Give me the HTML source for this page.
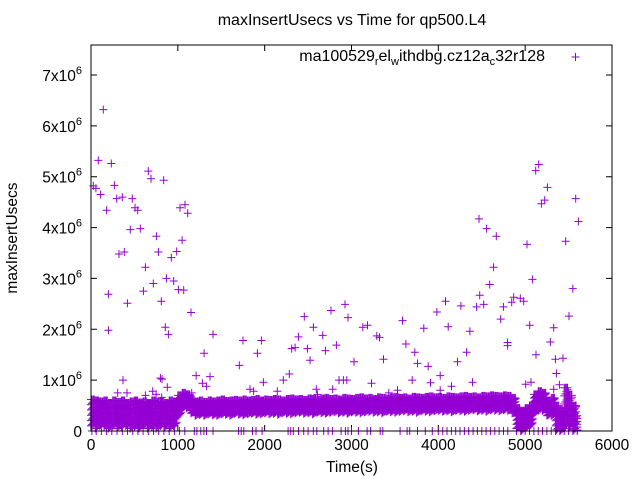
<!DOCTYPE html>
<html><head><meta charset="utf-8"><style>
html,body{margin:0;padding:0;background:#fff;}
svg{display:block;font-family:"Liberation Sans",sans-serif;}
</style></head><body>
<svg id="chart" width="640" height="480" viewBox="0 0 640 480">
<text x="352" y="25" font-size="16" text-anchor="middle">maxInsertUsecs vs Time for qp500.L4</text>
<text x="352" y="472" font-size="15.5" text-anchor="middle">Time(s)</text>
<text transform="translate(17,238) rotate(-90)" font-size="15.5" text-anchor="middle">maxInsertUsecs</text>
<g id="axes"></g>
<g id="marks"></g>
<rect x="91" y="45" width="521" height="386" fill="none" stroke="#000" stroke-width="1"/>
<g>
<text x="545" y="61" font-size="16" text-anchor="end">ma100529<tspan font-size="11" dy="4">r</tspan><tspan dy="-4">el</tspan><tspan font-size="11" dy="4">w</tspan><tspan dy="-4">ithdbg.cz12a</tspan><tspan font-size="11" dy="4">c</tspan><tspan dy="-4">32r128</tspan></text>
<path d="M571.5 57H579.5M575.5 53V61" stroke="#9400d3" stroke-width="1"/>
</g>
</svg>
<script>
const xTicks=[0,1000,2000,3000,4000,5000,6000];
const yTicks=[0,1,2,3,4,5,6,7];
const outT=[27,57,142,84,111,180,234,269,296,361,323,384,200,200,419,369,453,476,507,538,568,660,691,837,626,603,718,753,776,810,856,891,799,818,879,868,952,925,987,1006,1067,1025,1083,1114,1049,1152,1302,1405,1210,1283,1371,1329,1160,1708,1750,1916,1962,1985,1831,1873,2146,2215,2284,2311,2350,2388,2457,2492,2523,2561,2668,2699,2595,2607,2764,2826,2783,2856,2925,2960,3029,3130,3184,3291,3322,3368,3230,3430,3530,3587,3626,3699,3729,3760,3833,3883,3910,3983,4021,4021,4083,4114,4152,4221,4260,4325,4364,4394,4441,4476,4522,4468,4556,4668,4637,4591,4718,4749,4798,4798,4845,4868,4944,4983,5021,5052,5083,5121,5156,5187,5225,5256,5125,5067,5006,5290,5329,5348,5360,5394,5329,5436,5467,5505,5548,5582,5613,5497,307,415,750,814,626,710,2907,2946];
const outV=[4.82,4.77,6.32,5.32,4.65,4.34,5.26,4.83,4.57,4.6,3.48,3.52,2.69,1.98,2.51,1.0,3.96,4.57,4.39,4.34,3.98,5.11,4.96,4.93,3.22,2.75,2.9,3.83,3.52,2.55,2.04,1.9,1.04,1.02,0.86,3.0,2.95,3.41,3.53,2.78,2.77,4.39,4.45,4.28,3.75,2.33,1.53,1.9,1.09,0.94,1.07,0.88,0.75,1.29,1.78,1.53,1.78,0.96,0.82,0.78,0.78,1.0,1.12,1.62,1.64,1.85,2.25,1.62,1.39,2.04,1.88,1.58,0.82,0.72,2.37,1.69,0.82,1.0,2.49,2.23,1.36,2.04,2.08,1.87,1.84,1.41,0.94,0.75,0.8,2.17,1.71,1.0,1.55,1.33,2.02,1.27,0.95,2.34,1.09,0.8,2.55,2.05,0.88,1.36,2.46,1.55,1.96,0.96,2.44,2.67,2.49,4.17,3.98,3.83,3.22,2.88,2.2,2.44,1.74,1.68,2.53,2.63,2.61,2.55,3.67,2.08,2.98,5.12,5.24,4.47,4.54,4.79,1.5,0.96,0.92,1.75,2.03,1.41,1.13,0.91,0.82,1.43,3.73,2.26,2.8,4.57,4.12,0.78,0.75,0.75,0.72,0.66,0.7,0.78,1.0,1.0];
const bandStep=50;
const bandHi=[0.62,0.6,0.58,0.6,0.55,0.6,0.57,0.6,0.55,0.58,0.6,0.56,0.58,0.55,0.6,0.57,0.58,0.55,0.6,0.58,0.7,0.75,0.72,0.62,
0.58,0.6,0.57,0.6,0.58,0.6,0.62,0.59,0.6,0.61,0.6,0.62,0.6,0.61,0.63,0.6,0.62,0.61,0.63,0.62,0.6,0.63,0.64,0.62,0.63,0.61,0.64,0.63,0.62,0.64,0.65,0.63,0.64,0.62,0.65,0.64,0.63,0.65,0.66,0.64,0.65,0.63,0.66,0.65,0.64,0.66,0.67,0.65,0.66,0.64,0.67,0.66,0.65,0.67,0.68,0.66,0.67,0.65,0.68,0.67,0.66,0.68,0.69,0.67,0.68,0.66,0.69,0.68,0.7,0.69,0.68,0.7,0.69,
0.65,0.45,0.4,0.45,0.5,0.72,0.78,0.75,0.6,0.65,0.5,0.4,0.85,0.7,0.5,0.3];
const bandLo=[0.1,0.05,0.1,0.08,0.05,0.1,0.05,0.08,0.1,0.05,0.08,0.05,0.1,0.05,0.08,0.05,0.1,0.08,0.05,0.1,0.3,0.45,0.45,0.35,
0.3,0.32,0.3,0.33,0.31,0.3,0.33,0.32,0.3,0.34,0.32,0.31,0.33,0.34,0.32,0.33,0.35,0.33,0.34,0.32,0.35,0.34,0.33,0.35,0.36,0.34,0.35,0.33,0.36,0.35,0.34,0.36,0.37,0.35,0.36,0.34,0.37,0.36,0.35,0.37,0.38,0.36,0.37,0.35,0.38,0.37,0.36,0.38,0.39,0.37,0.38,0.36,0.39,0.38,0.37,0.39,0.4,0.38,0.39,0.37,0.4,0.39,0.38,0.4,0.41,0.39,0.4,0.38,0.41,0.4,0.39,0.41,0.4,
0.35,0.05,0.0,0.05,0.1,0.35,0.4,0.4,0.3,0.3,0.0,0.0,0.05,0.05,0.0,0.02];
const zeroT=[10,60,120,180,240,300,360,420,480,540,600,660,720,780,840,900,960,1020,1080,1190,1220,1265,1300,1330,1405,1700,1730,1760,1860,1900,1970,2270,2300,2330,2390,2450,2500,2560,2600,2680,2730,2780,2880,2930,2960,3000,3080,3180,3220,3330,3360,3560,3640,3670,3760,3850,3930,4000,4050,4100,4150,4200,4250,4300,4350,4400,4450,4500,4550,4600,4650,4700,4750,4800,4900,4950,5000,5050,5100,5150,5200,5250,5300,5350,5400,5450,5500,5550,5600];

const X0=91,X1=612,Y0=431,Y1=75;
function sx(t){return X0+(X1-X0)*t/6000;}
function sy(v){return Y0-(Y0-Y1)*v/7;}
const NS="http://www.w3.org/2000/svg";
const axes=document.getElementById('axes');
const marks=document.getElementById('marks');
function plus(x,y){return "M"+(x-4).toFixed(1)+" "+y.toFixed(1)+"h8M"+x.toFixed(1)+" "+(y-4).toFixed(1)+"v8";}

xTicks.forEach(t=>{
  const x=sx(t);
  const l=document.createElementNS(NS,'path');
  l.setAttribute('d',"M"+x+" "+Y0+"v-6M"+x+" 45v6");
  l.setAttribute('stroke','#000');
  
  
  axes.appendChild(l);
  const tx=document.createElementNS(NS,'text');
  tx.setAttribute('x',x);tx.setAttribute('y',450);
  tx.setAttribute('font-size','15.5');tx.setAttribute('text-anchor','middle');
  tx.textContent=String(t);
  
  
  axes.appendChild(tx);
});
yTicks.forEach(v=>{
  const y=sy(v);
  const l=document.createElementNS(NS,'path');
  l.setAttribute('d',"M"+X0+" "+y+"h6M"+X1+" "+y+"h-6");
  l.setAttribute('stroke','#000');
  
  
  axes.appendChild(l);
  const tx=document.createElementNS(NS,'text');
  tx.setAttribute('x',82);tx.setAttribute('y',y+6);
  tx.setAttribute('font-size','15.5');tx.setAttribute('text-anchor','end');
  if(v===0){tx.textContent='0';}
  else{tx.innerHTML=v+'x10<tspan font-size="11" dy="-7">6</tspan><tspan dy="7"></tspan>';}
  
  
  axes.appendChild(tx);
});

let bd="";
bandHi.forEach((hi,i)=>{
  const lo=bandLo[i];
  const t=i*bandStep;
  const offs=[0,12,25,37];
  offs.forEach((o,k)=>{
    if(t+o>5610)return;
    for(let j=0;j<=5;j++){
      const v=lo+(hi-lo)*((j+k*0.25)%5)/5;
      bd+=plus(sx(t+o),sy(v));
    }
    bd+=plus(sx(t+o),sy(hi));
  });
});
const band=document.createElementNS(NS,'path');
band.setAttribute('d',bd);
band.setAttribute('stroke','#9400d3');band.setAttribute('fill','none');band.setAttribute('stroke-width','1');


marks.appendChild(band);

let zd="";
zeroT.forEach(t=>{zd+=plus(sx(t),sy(0));});
const zp=document.createElementNS(NS,'path');
zp.setAttribute('d',zd);
zp.setAttribute('stroke','#9400d3');zp.setAttribute('fill','none');


marks.appendChild(zp);

outT.forEach((t,i)=>{
  const p=document.createElementNS(NS,'path');
  p.setAttribute('d',plus(sx(t),sy(outV[i])));
  p.setAttribute('stroke','#9400d3');
  
  
  marks.appendChild(p);
});
</script>
</body></html>
